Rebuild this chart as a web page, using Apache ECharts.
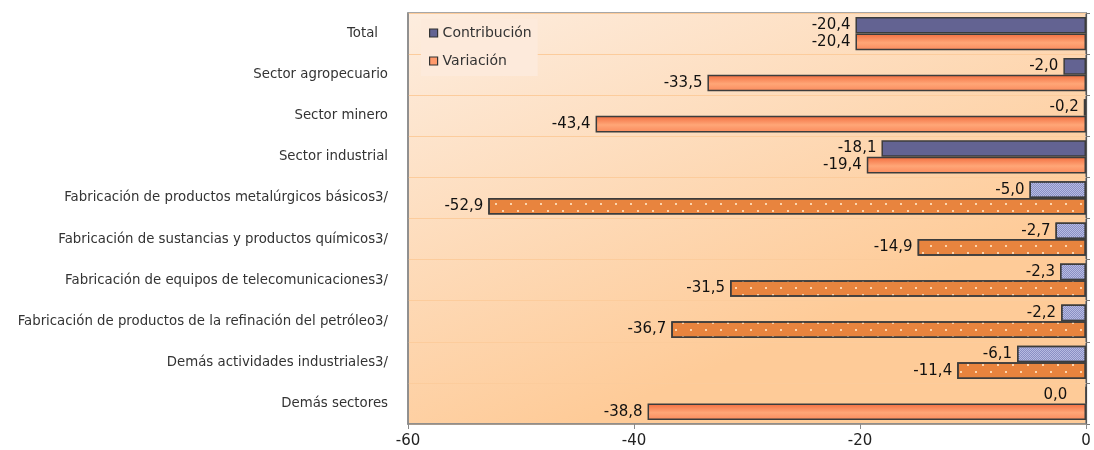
<!DOCTYPE html>
<html>
<head>
<meta charset="utf-8">
<script src="https://cdn.jsdelivr.net/npm/echarts@6/dist/echarts.min.js"></script>
<style>
  html, body { margin: 0; padding: 0; background: #ffffff; }
  #chart { width: 1094px; height: 450px; }
</style>
</head>
<body>
<div id="chart"></div>
<script>
// Sectors, from top to bottom
const categories = [
  'Total',
  'Sector agropecuario',
  'Sector minero',
  'Sector industrial',
  'Fabricación de productos metalúrgicos básicos3/',
  'Fabricación de sustancias y productos químicos3/',
  'Fabricación de equipos de telecomunicaciones3/',
  'Fabricación de productos de la refinación del petróleo3/',
  'Demás actividades industriales3/',
  'Demás sectores'
];
// Contribution (percentage points) and variation (%) per sector
const contribucion = [-20.4, -2.0, -0.2, -18.1, -5.0, -2.7, -2.3, -2.2, -6.1, 0.0];
const variacion = [-20.4, -33.5, -43.4, -19.4, -52.9, -14.9, -31.5, -36.7, -11.4, -38.8];
// Rows that are sub-branches of the industrial sector (drawn with a texture)
const subBranch = [false, false, false, false, true, true, true, true, true, false];
const xTicks = { min: -60, max: 0, interval: 20 };

const FONT = '"DejaVu Sans", Verdana, sans-serif';
const fmt = v => v.toFixed(1).replace('.', ',');

const blueSolid = '#636392';
const orangeGrad = new echarts.graphic.LinearGradient(0, 0, 0, 1, [
  { offset: 0, color: '#f26c3e' },
  { offset: 0.55, color: '#ffa677' },
  { offset: 1, color: '#fa8a5c' }
]);
const bluePattern = {
  color: '#b7bbe2',
  decal: { symbol: 'rect', symbolSize: 1, color: '#8a90c4', dashArrayX: [[1, 1], [0, 1, 1, 0]], dashArrayY: [1, 0] }
};
const orangePattern = {
  color: '#e8843e',
  decal: { symbol: 'rect', symbolSize: 1, color: 'rgba(255,222,185,0.9)', dashArrayX: [[2, 13], [0, 7, 2, 6]], dashArrayY: [2, 5] }
};

function buildSeries(values, solid, pattern) {
  return values.map((v, i) => {
    const item = { value: v };
    if (subBranch[i]) {
      item.itemStyle = { color: pattern.color, decal: pattern.decal };
    } else {
      item.itemStyle = { color: solid };
    }
    return item;
  });
}

const contribData = buildSeries(contribucion, blueSolid, bluePattern);
// the zero contribution label sits a little further from the axis
contribData[9].label = { distance: 18, position: 'left' };
const variacionData = buildSeries(variacion, orangeGrad, orangePattern);

const catData = categories.map((c, i) => i === 0
  ? { value: c, textStyle: { padding: [0, 10, 0, 0] } }
  : c);

const chart = echarts.init(document.getElementById('chart'), null, { renderer: 'canvas' });
chart.setOption({
  animation: false,
  backgroundColor: '#ffffff',
  grid: {
    left: 408, right: 8, top: 13, bottom: 26,
    show: true,
    borderColor: '#8a8a8a',
    borderWidth: 1.5,
    backgroundColor: new echarts.graphic.LinearGradient(0, 0, 0.25, 1, [
      { offset: 0, color: '#fdeddf' },
      { offset: 1, color: '#fecb98' }
    ])
  },
  legend: {
    orient: 'vertical',
    left: 421, top: 19,
    itemWidth: 8, itemHeight: 8,
    itemGap: 14,
    padding: [7, 6, 8, 8],
    backgroundColor: '#fdeadb',
    icon: 'rect',
    textStyle: { fontFamily: FONT, fontSize: 14, color: '#333' },
    data: [
      { name: 'Contribución', itemStyle: { color: blueSolid, borderColor: '#333', borderWidth: 1.2 } },
      { name: 'Variación', itemStyle: { color: '#ff9a6c', borderColor: '#333', borderWidth: 1.2 } }
    ]
  },
  xAxis: {
    type: 'value',
    min: xTicks.min, max: xTicks.max, interval: xTicks.interval,
    axisLine: { show: true, onZero: false, lineStyle: { color: '#8a8a8a', width: 1.5 } },
    axisTick: { show: true, length: 5, lineStyle: { color: '#8a8a8a' } },
    axisLabel: { fontFamily: FONT, fontSize: 15, color: '#222', margin: 10 },
    splitLine: { show: false }
  },
  yAxis: [{
    type: 'category',
    inverse: true,
    data: catData,
    axisLine: { show: true, onZero: false, lineStyle: { color: '#8a8a8a', width: 1.5 } },
    axisTick: { show: false },
    axisLabel: { fontFamily: FONT, fontSize: 13.3, color: '#333', margin: 20 },
    splitLine: { show: true, lineStyle: { color: '#fccc9c', width: 1 } }
  }, {
    type: 'category',
    inverse: true,
    position: 'right',
    data: categories,
    axisLine: { show: true, onZero: false, lineStyle: { color: '#555', width: 1.2 } },
    axisTick: { show: true, length: 4, lineStyle: { color: '#777' } },
    axisLabel: { show: false },
    splitLine: { show: false }
  }],
  series: [{
    name: 'Contribución',
    type: 'bar',
    data: contribData,
    barGap: '0%',
    barCategoryGap: '19%',
    itemStyle: { borderColor: '#3c3c3c', borderWidth: 1.5 },
    label: {
      show: true, position: 'left', distance: 5,
      fontFamily: FONT, fontSize: 15, color: '#111',
      formatter: p => fmt(p.value)
    }
  }, {
    name: 'Variación',
    type: 'bar',
    data: variacionData,
    barGap: '0%',
    barCategoryGap: '19%',
    itemStyle: { color: orangeGrad, borderColor: '#3c3c3c', borderWidth: 1.5 },
    label: {
      show: true, position: 'left', distance: 5,
      fontFamily: FONT, fontSize: 15, color: '#111',
      formatter: p => fmt(p.value)
    }
  }]
});
</script>
</body>
</html>
